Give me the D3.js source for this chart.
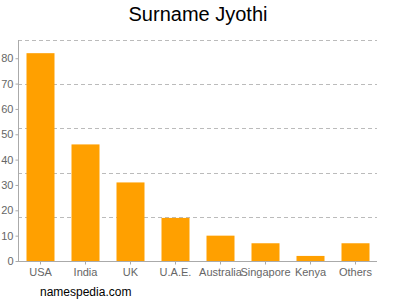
<!DOCTYPE html>
<html><head><meta charset="utf-8">
<script src="https://cdn.jsdelivr.net/npm/d3@7"></script>
<style>body{margin:0;background:#fff}svg{display:block;font-family:"Liberation Sans",Arial,sans-serif}</style>
</head><body>
<script>
const categories = ["USA","India","UK","U.A.E.","Australia","Singapore","Kenya","Others"];
const values = [82,46,31,17,10,7,2,7];
const yTicks = [0,10,20,30,40,50,60,70,80];
const yMax = 87.2;
const title = "Surname Jyothi";
const credit = "namespedia.com";

const W=400,H=300;
const svg=d3.select("body").append("svg").attr("width",W).attr("height",H);
const x=d3.scaleBand().domain(categories).range([18,378]).paddingInner(17/45).paddingOuter(8.5/45);
const y=d3.scaleLinear().domain([0,yMax]).range([261,40]);

// gridlines
const grid=d3.range(1,6).map(i=>yMax*i/5);
svg.append("g").selectAll("line").data(grid).join("line")
  .attr("x1",18).attr("x2",377).attr("y1",d=>Math.round(y(d))+0.5).attr("y2",d=>Math.round(y(d))+0.5)
  .attr("stroke","#bbb").attr("stroke-dasharray","4,3");

svg.append("g").selectAll("rect").data(values).join("rect")
  .attr("x",(d,i)=>x(categories[i])).attr("width",x.bandwidth())
  .attr("y",d=>y(d)).attr("height",d=>y(0)-y(d)).attr("fill","#ffa000");

const ya=svg.append("g").attr("transform","translate(18.5,0)")
  .call(d3.axisLeft(y).tickValues(yTicks).tickSize(3).tickPadding(2).tickFormat(d3.format("d")));
ya.select(".domain").attr("stroke","#aaa").attr("d","M0,40V261.5");
ya.selectAll(".tick line").attr("stroke","#aaa");
ya.selectAll("text").attr("fill","#666").style("font-size","11px").style("font-family","Liberation Sans, Arial, sans-serif");

const xa=svg.append("g").attr("transform","translate(0,261.5)")
  .call(d3.axisBottom(x).tickSize(3).tickPadding(4));
xa.select(".domain").attr("stroke","#aaa").attr("d","M18,0H377");
xa.selectAll(".tick line").attr("stroke","#aaa");
xa.selectAll("text").attr("fill","#666").style("font-size","11px").style("font-family","Liberation Sans, Arial, sans-serif");

svg.append("text").attr("x",198).attr("y",21).attr("text-anchor","middle")
  .style("font-size","20px").attr("fill","#000").text(title);
svg.append("text").attr("x",40).attr("y",296).style("font-size","12px").attr("fill","#000").text(credit);
</script>
</body></html>
